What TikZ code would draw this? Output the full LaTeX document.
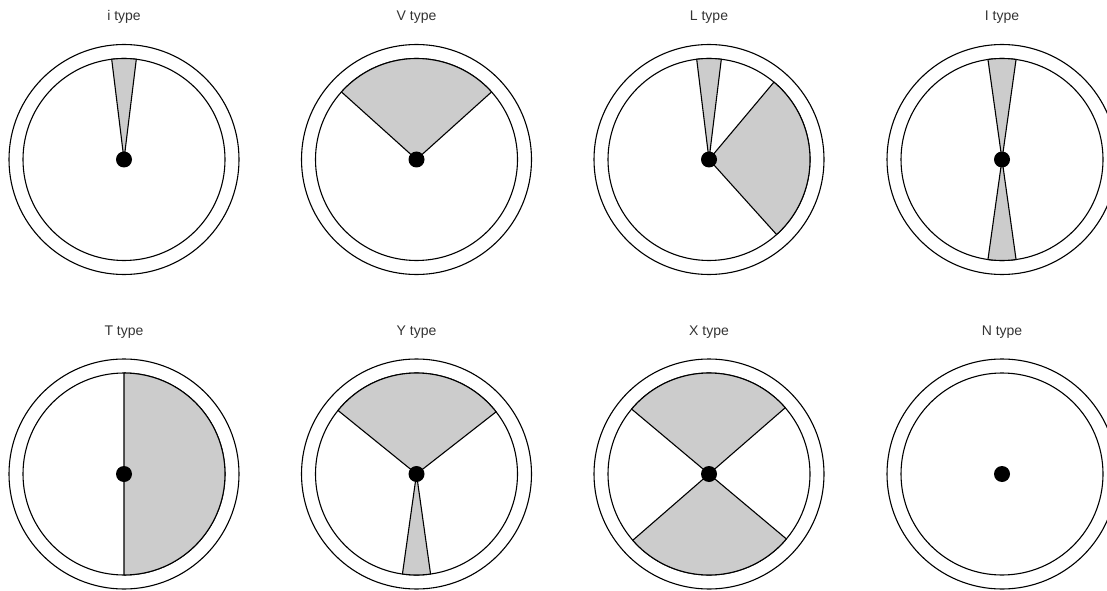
\documentclass[tikz,border=0pt]{standalone}
\usepackage{fontspec}
\setmainfont{Liberation Sans}
\usepackage{xcolor}
\usetikzlibrary{positioning}
\definecolor{sectorgray}{HTML}{CCCCCC}
\definecolor{titlegray}{HTML}{333333}

\begin{document}
\begin{tikzpicture}[
    x=1pt, y=1pt,
    rim/.style={draw, circle, line width=1.1pt, minimum size=230pt, inner sep=0pt, fill=white},
    face/.style={draw, circle, line width=1.1pt, minimum size=202pt, inner sep=0pt},
    hub/.style={circle, fill=black, minimum size=16pt, inner sep=0pt},
    sector/.style={draw, line width=1.1pt, fill=sectorgray, line join=round},
    title/.style={font=\fontsize{14}{16}\selectfont, color=titlegray},
]
\useasboundingbox (0,0) rectangle (1107,590);

% i type
\node[title] (iTitle) at (124,573) {i type};
\node[rim] (iRim) at (124,430.5) {};
\node[face] (iFace) at (iRim) {};
\draw[sector] (iRim.center) -- ++(83:101) arc[start angle=83, end angle=97, radius=101] -- cycle;
\node[hub] (iHub) at (iRim) {};

% V type
\node[title] (vTitle) at (416.5,573) {V type};
\node[rim] (vRim) at (416.5,430.5) {};
\node[face] (vFace) at (vRim) {};
\draw[sector] (vRim.center) -- ++(42:101) arc[start angle=42, end angle=138, radius=101] -- cycle;
\node[hub] (vHub) at (vRim) {};

% L type
\node[title] (lTitle) at (709,573) {L type};
\node[rim] (lRim) at (709,430.5) {};
\node[face] (lFace) at (lRim) {};
\draw[sector] (lRim.center) -- ++(83:101) arc[start angle=83, end angle=97, radius=101] -- cycle;
\draw[sector] (lRim.center) -- ++(-48:101) arc[start angle=-48, end angle=50, radius=101] -- cycle;
\node[hub] (lHub) at (lRim) {};

% I type
\node[title] (bigITitle) at (1002,573) {I type};
\node[rim] (bigIRim) at (1002,430.5) {};
\node[face] (bigIFace) at (bigIRim) {};
\draw[sector] (bigIRim.center) -- ++(82:101) arc[start angle=82, end angle=98, radius=101] -- cycle;
\draw[sector] (bigIRim.center) -- ++(262:101) arc[start angle=262, end angle=278, radius=101] -- cycle;
\node[hub] (bigIHub) at (bigIRim) {};

% T type
\node[title] (tTitle) at (124,258) {T type};
\node[rim] (tRim) at (124,116) {};
\node[face] (tFace) at (tRim) {};
\draw[sector] (tRim.center) -- ++(-90:101) arc[start angle=-90, end angle=90, radius=101] -- cycle;
\node[hub] (tHub) at (tRim) {};

% Y type
\node[title] (yTitle) at (416.5,258) {Y type};
\node[rim] (yRim) at (416.5,116) {};
\node[face] (yFace) at (yRim) {};
\draw[sector] (yRim.center) -- ++(38:101) arc[start angle=38, end angle=141, radius=101] -- cycle;
\draw[sector] (yRim.center) -- ++(262:101) arc[start angle=262, end angle=278, radius=101] -- cycle;
\node[hub] (yHub) at (yRim) {};

% X type
\node[title] (xTitle) at (709,258) {X type};
\node[rim] (xRim) at (709,116) {};
\node[face] (xFace) at (xRim) {};
\draw[sector] (xRim.center) -- ++(41:101) arc[start angle=41, end angle=140, radius=101] -- cycle;
\draw[sector] (xRim.center) -- ++(221:101) arc[start angle=221, end angle=320, radius=101] -- cycle;
\node[hub] (xHub) at (xRim) {};

% N type
\node[title] (nTitle) at (1002,258) {N type};
\node[rim] (nRim) at (1002,116) {};
\node[face] (nFace) at (nRim) {};
\node[hub] (nHub) at (nRim) {};

\end{tikzpicture}
\end{document}
